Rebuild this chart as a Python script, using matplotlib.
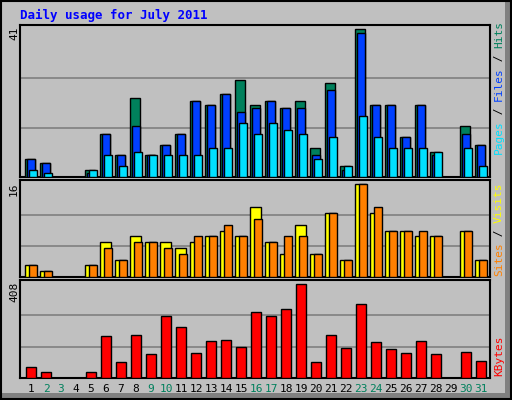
import matplotlib
matplotlib.use("Agg")
import matplotlib.pyplot as plt
from matplotlib.patches import Rectangle

days = list(range(1, 32))
hits  = [5,4,0,0,2,12,6,22,6,9,12,21,20,23,27,20,21,19,21,8,26,3,41,20,20,11,20,7,0,14,9]
files = [5,4,0,0,1,12,6,14,6,9,12,21,20,23,18,19,21,19,19,6,24,2,40,20,20,11,20,6,0,12,9]
pages = [2,1,0,0,2,6,3,7,6,6,6,6,8,8,15,12,15,13,12,5,11,3,17,11,8,8,8,7,0,8,3]
sites = [2,1,0,0,2,6,3,7,6,6,5,6,7,8,7,12,6,4,9,4,11,3,16,11,8,8,7,7,0,8,3]
visits= [2,1,0,0,2,5,3,6,6,5,4,7,7,9,7,10,6,7,7,4,11,3,16,12,8,8,8,7,0,8,3]
kbytes= [46,28,0,0,24,184,68,188,104,269,220,108,162,166,135,286,269,300,408,68,188,131,322,157,126,108,162,104,0,113,73]
weekend = [2,3,9,10,16,17,23,24,30,31]
title = "Daily usage for July 2011"

BG = "#C0C0C0"
C_HITS, C_FILES, C_PAGES = "#00805C", "#0040FF", "#00E0FF"
C_SITES, C_VISITS, C_KB = "#FFFF00", "#FF8000", "#FF0000"
W, H = 512, 400
fig = plt.figure(figsize=(W/100, H/100), dpi=100, facecolor=BG)
mono = "DejaVu Sans Mono"

def ax_at(x0, y0, x1, y1):
    return fig.add_axes([x0/W, 1-y1/H, (x1-x0)/W, (y1-y0)/H])

# outer frame with shadow
fig.patches.append(Rectangle((505/W,0),7/W,1,transform=fig.transFigure,color="#808080",lw=0))
fig.patches.append(Rectangle((0,0),1,7/H,transform=fig.transFigure,color="#808080",lw=0))
fig.patches.append(Rectangle((1/W,1/H),(W-2)/W,(H-2)/H,transform=fig.transFigure,fill=False,ec="black",lw=1.5))
fig.text(20/W, 1-15/H, title, color="#0000FF", fontsize=9, fontweight="bold", family=mono, va="center")

panels = [(25, 177, max(hits)), (180, 277, max(sites)), (280, 378, max(kbytes))]
axes = []
for (y0, y1, top) in panels:
    a = ax_at(20, y0, 490, y1)
    a.set_facecolor(BG)
    a.set_xlim(0, 470)
    for s in a.spines.values():
        s.set_linewidth(1.5)
    a.set_xticks([]); a.set_yticks([])
    axes.append(a)
    fig.text(14/W, 1-(y0+2)/H, str(top), rotation=90, ha="center", va="top", fontsize=8, family=mono)

a1, a2, a3 = axes
a1.set_ylim(0, 41*152/148)
a2.set_ylim(0, 16*97/93)
a3.set_ylim(0, 408*98/94)
for a, top in [(a1, 41), (a2, 16), (a3, 408)]:
    for f in (1/3, 2/3):
        a.axhline(top*f, color="#808080", lw=1.2, zorder=0)

kw = dict(align="edge", edgecolor="black", linewidth=1, zorder=3)
lefts = [5 + (d-1)*15 for d in days]
def sel(vals, off):
    xs = [l+off for l, v in zip(lefts, vals) if v > 0]
    vs = [v for v in vals if v > 0]
    return xs, vs
x, v = sel(hits, 0);   a1.bar(x, v, 10, color=C_HITS, **kw)
x, v = sel(files, 2.3); a1.bar(x, v, 7.4, color=C_FILES, **kw)
x, v = sel(pages, 4.3); a1.bar(x, v, 7.4, color=C_PAGES, **kw)
x, v = sel(sites, 0);  a2.bar(x, v, 11, color=C_SITES, **kw)
x, v = sel(visits, 4); a2.bar(x, v, 7.5, color=C_VISITS, **kw)
x, v = sel(kbytes, 1); a3.bar(x, v, 10, color=C_KB, **kw)

for d, l in zip(days, lefts):
    fig.text((20+l+6)/W, 1-389/H, str(d), ha="center", va="center", fontsize=8, family=mono,
             color=C_HITS if d in weekend else "black")

def vlabel(ybottom, parts):
    y = ybottom
    for txt, col in parts:
        fig.text(499/W, 1-y/H, txt, rotation=90, color=col, fontsize=8, family=mono,
                 ha="center", va="bottom")
        y -= len(txt)*6.6
vlabel(154, [("Pages", C_PAGES), (" / ", "black"), ("Files", C_FILES), (" / ", "black"), ("Hits", C_HITS)])
vlabel(276, [("Sites", C_VISITS), (" / ", "black"), ("Visits", C_SITES)])
vlabel(376, [("KBytes", C_KB)])

fig.savefig("out.png", dpi=100, facecolor=BG)
